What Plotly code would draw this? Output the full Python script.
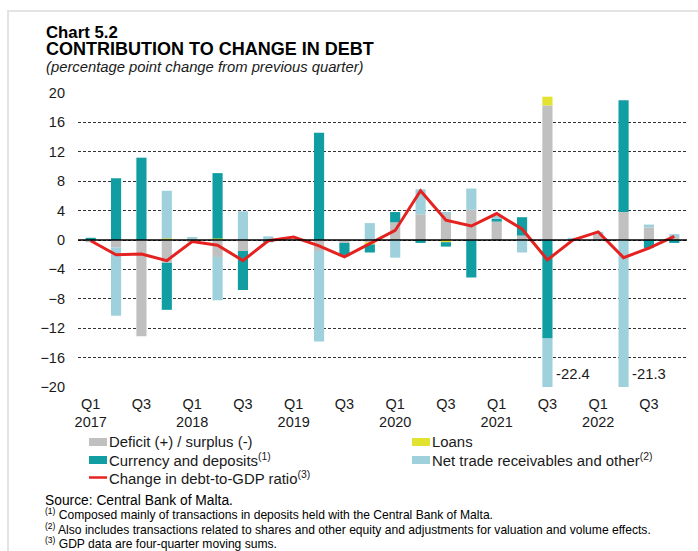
import plotly.graph_objects as go

quarters = [f"{y}Q{q}" for y in range(2017, 2023) for q in range(1, 5)]
tick_vals = quarters[::2]
tick_text = ["Q1<br>2017", "Q3", "Q1<br>2018", "Q3", "Q1<br>2019", "Q3",
             "Q1<br>2020", "Q3", "Q1<br>2021", "Q3", "Q1<br>2022", "Q3"]

deficit = [-0.3, -1.0, -13.1, -3.1, -0.2, -2.3, -1.5, 0.0, 0.0, -1.5, -0.4, -0.3,
           2.4, 3.5, 3.6, 4.1, 2.5, 0.6, 18.3, 0.1, 0.7, 3.8, 1.7, 0.4]
loans = [0.0, 0.0, 0.0, 0.2, 0.0, 0.2, 0.0, 0.0, 0.0, 0.0, 0.0, -0.3,
         0.0, 0.0, -0.3, 0.0, 0.0, 0.0, 1.2, 0.0, 0.0, 0.0, 0.0, 0.0]
currency = [0.3, 8.4, 11.2, -6.4, 0.0, 8.9, -5.3, -0.3, 0.0, 14.6, -1.8, -1.1,
            1.4, -0.4, -0.6, -5.1, 0.4, 2.5, -13.4, 0.0, 0.0, 15.2, -1.1, -0.4]
net_trade = [0.0, -9.3, 0.0, 6.5, 0.4, -5.9, 3.9, 0.5, 0.1, -12.3, 0.0, 2.3,
             -2.4, 3.4, 0.1, 2.9, 0.4, -1.7, -9.0, 0.2, 0.4, -21.3, 0.4, 0.4]
debt_ratio = [-0.1, -2.0, -1.9, -2.8, -0.2, -0.7, -2.8, -0.1, 0.4, -0.8, -2.3, -0.5,
              1.3, 6.7, 2.7, 1.9, 3.6, 1.5, -2.7, 0.0, 1.1, -2.4, -1.1, 0.5]

C_GRAY = "#c0c0c0"
C_YELLOW = "#e2e230"
C_TEAL = "#109ea3"
C_LBLUE = "#9ed1dc"
C_RED = "#e42320"
FONT = "Liberation Sans, Arial, sans-serif"
TXT = "#1a1a1a"

W, H = 698, 551
L, R, T, B = 78, 11, 93, 164
PW, PH = W - L - R, H - T - B


def px(x):
    return (x - L) / PW


def py(y):
    return (H - B - y) / PH


fig = go.Figure()
for name, vals, col in [("Deficit (+) / surplus (-)", deficit, C_GRAY),
                        ("Loans", loans, C_YELLOW),
                        ("Currency and deposits", currency, C_TEAL),
                        ("Net trade receivables and other", net_trade, C_LBLUE)]:
    fig.add_trace(go.Bar(x=quarters, y=vals, name=name, marker_color=col,
                         marker_line_width=0, showlegend=False))
fig.add_trace(go.Scatter(x=quarters, y=debt_ratio, mode="lines",
                         name="Change in debt-to-GDP ratio",
                         line=dict(color=C_RED, width=3), showlegend=False))

fig.update_layout(
    width=W, height=H, barmode="relative", bargap=0.6,
    margin=dict(l=L, r=R, t=T, b=B),
    paper_bgcolor="white", plot_bgcolor="white",
    font=dict(family=FONT, size=14.5, color=TXT),
    xaxis=dict(type="category", categoryorder="array", categoryarray=quarters,
               tickvals=tick_vals, ticktext=tick_text, showgrid=False,
               showline=False, zeroline=False, ticks="",
               ticklabelstandoff=6,
               tickfont=dict(size=14.5, color=TXT)),
    yaxis=dict(range=[-20, 20], dtick=4, tick0=0, showgrid=True,
               gridcolor="#333333", griddash="3px,2px", gridwidth=1,
               zeroline=False, showline=False, ticks="",
               ticklabelstandoff=12,
               tickfont=dict(size=14.5, color=TXT)),
)

# zero line
fig.add_shape(type="line", xref="paper", yref="y", x0=0, x1=1, y0=0, y1=0,
              line=dict(color="black", width=1.5), layer="above")

# outer frame
fig.add_shape(type="rect", xref="paper", yref="paper",
              x0=px(8), x1=px(715), y0=py(11), y1=py(570),
              line=dict(color="#e3e3e3", width=2), layer="below")

ann = []
# titles
ann.append(dict(text="<b>Chart 5.2</b>", x=px(45), y=py(32.5), font=dict(size=16.8, color="black")))
ann.append(dict(text="<b>CONTRIBUTION TO CHANGE IN DEBT</b>", x=px(45), y=py(49.5), font=dict(size=18.0, color="black")))
ann.append(dict(text="<i>(percentage point change from previous quarter)</i>", x=px(45), y=py(66.5), font=dict(size=14.8, color=TXT)))

# value labels for clipped bars
q_a = quarters.index("2021Q3")
q_b = quarters.index("2022Q2")
neg_a = sum(v for v in [deficit[q_a], loans[q_a], currency[q_a], net_trade[q_a]] if v < 0)
neg_b = sum(v for v in [deficit[q_b], loans[q_b], currency[q_b], net_trade[q_b]] if v < 0)
ann.append(dict(text=f"{neg_a:.1f}", xref="x", yref="y", x=quarters[q_a + 1], y=-18.2,
                xanchor="center", font=dict(size=14.8, color=TXT)))
ann.append(dict(text=f"{neg_b:.1f}", xref="x", yref="y", x=quarters[q_b + 1], y=-18.2,
                xanchor="center", font=dict(size=14.8, color=TXT)))

# legend (manual)
leg = [("Deficit (+) / surplus (-)", C_GRAY, 89, 442, "box"),
       ("Loans", C_YELLOW, 412, 442, "box"),
       ("Currency and deposits<sup>(1)</sup>", C_TEAL, 89, 460, "box"),
       ("Net trade receivables and other<sup>(2)</sup>", C_LBLUE, 412, 460, "box"),
       ("Change in debt-to-GDP ratio<sup>(3)</sup>", C_RED, 89, 477.5, "line")]
for text, col, x0, yc, kind in leg:
    if kind == "box":
        fig.add_shape(type="rect", xref="paper", yref="paper",
                      x0=px(x0), x1=px(x0 + 18), y0=py(yc - 4), y1=py(yc + 4),
                      fillcolor=col, line_width=0)
    else:
        fig.add_shape(type="line", xref="paper", yref="paper",
                      x0=px(x0), x1=px(x0 + 18), y0=py(yc), y1=py(yc),
                      line=dict(color=col, width=2.5))
    ann.append(dict(text=text, x=px(x0 + 19), y=py(yc), font=dict(size=14.9, color=TXT)))

# source & notes
ann.append(dict(text="Source: Central Bank of Malta.", x=px(44), y=py(500.5), font=dict(size=13.8, color="black")))
notes = ["<sup>(1)</sup> Composed mainly of transactions in deposits held with the Central Bank of Malta.",
         "<sup>(2)</sup> Also includes transactions related to shares and other equity and adjustments for valuation and volume effects.",
         "<sup>(3)</sup> GDP data are four-quarter moving sums."]
for t, yc in zip(notes, [514, 528.5, 543]):
    ann.append(dict(text=t, x=px(44), y=py(yc), font=dict(size=12.1, color="black")))

for a in ann:
    a.setdefault("xref", "paper")
    a.setdefault("yref", "paper")
    a.setdefault("xanchor", "left")
    a.setdefault("yanchor", "middle")
    a["showarrow"] = False
    a["borderpad"] = 0
    fig.add_annotation(**a)

fig.write_html("out.html")
